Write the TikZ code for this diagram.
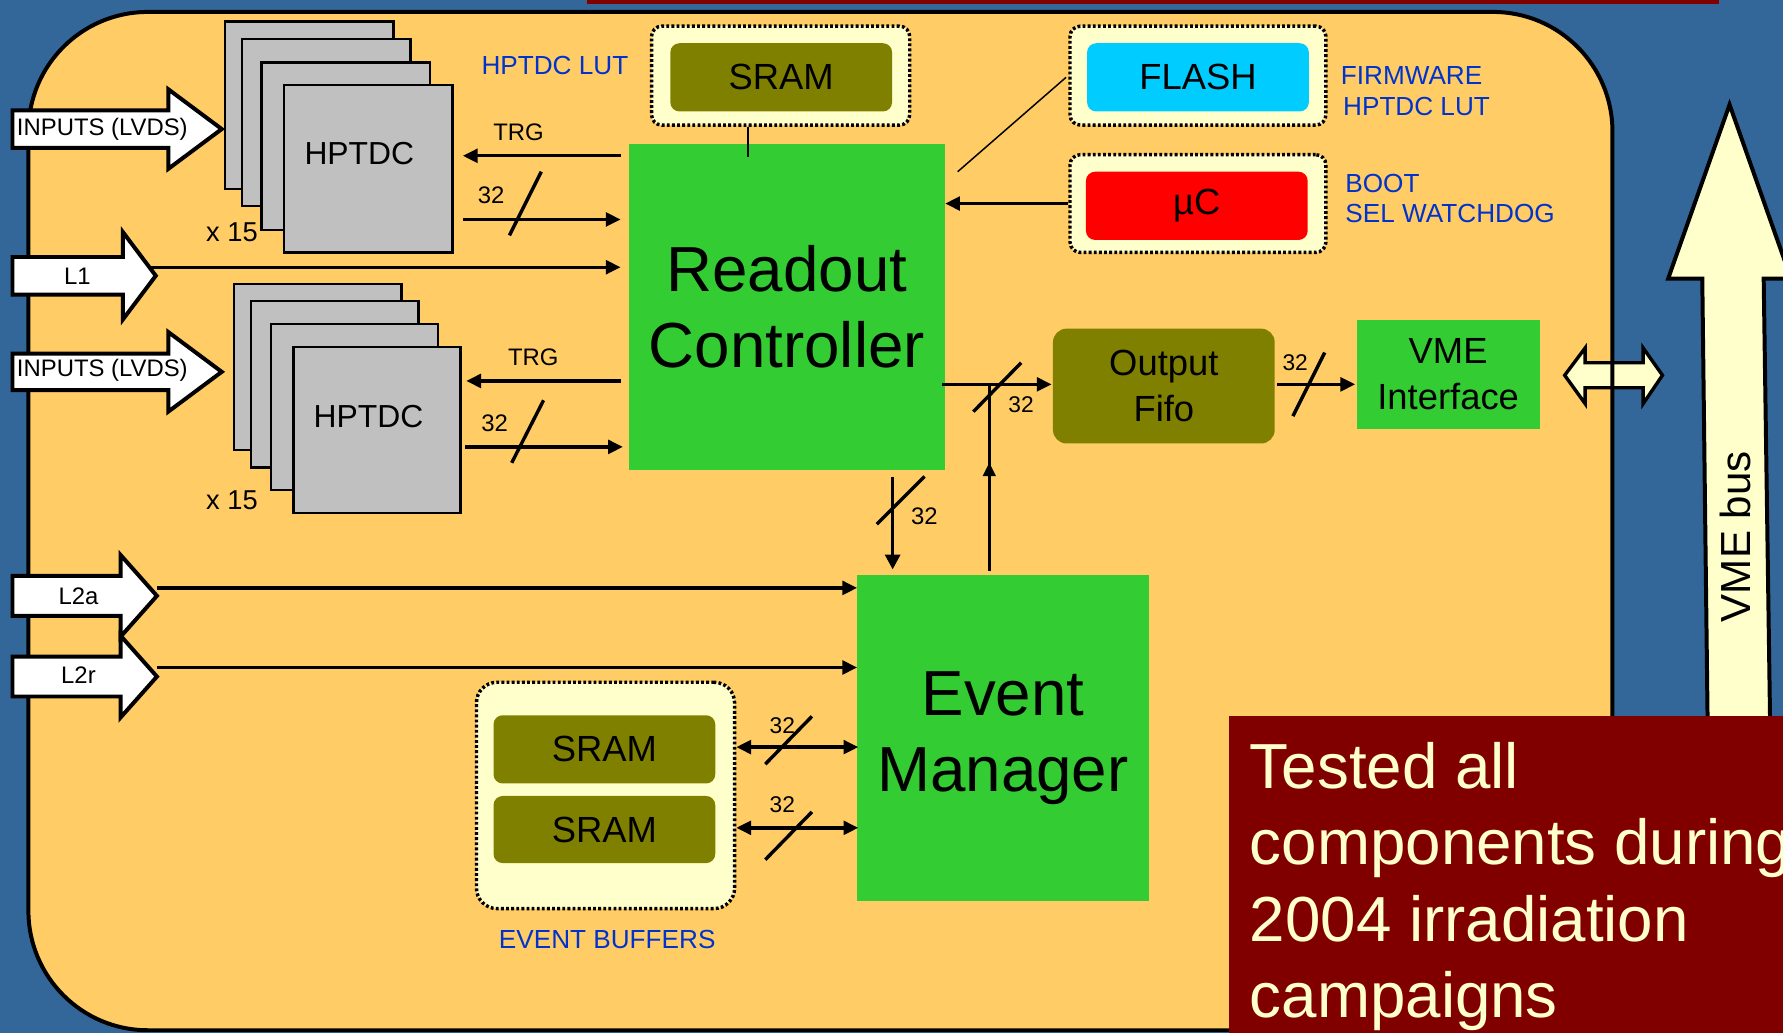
\documentclass[tikz,border=0pt]{standalone}
\usepackage{fontspec}
\setmainfont{Liberation Sans}
\usetikzlibrary{arrows.meta,
                calc, %for relative coords
                positioning}

\definecolor{bgblue}{RGB}{51,102,153}
\definecolor{boardorange}{RGB}{255,204,102}
\definecolor{chipgreen}{RGB}{51,204,51}
\definecolor{sramolive}{RGB}{128,128,0}
\definecolor{paleyellow}{RGB}{255,255,204}
\definecolor{flashcyan}{RGB}{0,204,255}
\definecolor{darkred}{RGB}{128,0,0}
\definecolor{labelblue}{RGB}{0,51,204}
\definecolor{tdcgrey}{RGB}{192,192,192}

% white block arrow: left x, head x, tip x, centre y, half shaft, half head
\newcommand{\blockarrow}[6]{%
  \draw[blk] (#1,#4-#5) -- (#2,#4-#5) -- (#2,#4-#6) -- (#3,#4)
    -- (#2,#4+#6) -- (#2,#4+#5) -- (#1,#4+#5) -- cycle;}

\begin{document}
\begin{tikzpicture}[x=1pt, y=-1pt,
    block/.style={fill=chipgreen, inner sep=0pt, align=center,
                  font=\fontsize{56}{67}\selectfont},
    mem/.style={fill=sramolive, rounded corners=8pt, inner sep=0pt,
                minimum width=195pt, minimum height=60pt,
                font=\fontsize{32}{40}\selectfont},
    holder/.style={draw, fill=paleyellow, line width=3pt,
                   dash pattern=on 2.5pt off 2pt, rounded corners=9pt, inner sep=0pt},
    tdc/.style={draw, fill=tdcgrey, line width=2pt, inner sep=0pt,
                minimum width=148pt, minimum height=147pt},
    sheet/.style={draw, fill=tdcgrey, line width=2pt},
    blk/.style={draw, fill=white, line width=3.5pt, line join=miter},
    busarrow/.style={draw, fill=paleyellow, line width=3pt, line join=miter},
    sig/.style={line width=3pt, -{Triangle[length=13pt,width=12pt]}},
    bisig/.style={line width=3pt,
                  {Triangle[length=13pt,width=12pt]}-{Triangle[length=13pt,width=12pt]}},
    wire/.style={line width=1.3pt},
    slash/.style={line width=3pt},
    lbl/.style={inner sep=0pt, font=\fontsize{21}{25}\selectfont},
    bluelbl/.style={inner sep=0pt, text=labelblue, font=\fontsize{23}{28}\selectfont},
    note/.style={inner sep=0pt, text=paleyellow, font=\fontsize{56}{67}\selectfont}
    ]

    \useasboundingbox (0,0) rectangle (1568,908);
    \clip (0,0) rectangle (1568,908);

    %background and board
    \fill[bgblue] (0,0) rectangle (1568,908);
    \fill[darkred] (516,0) rectangle (1512,3.5);
    \fill[boardorange, rounded corners=105pt] (25,10.5) rectangle (1418,906);
    \draw[busarrow] (1376,330) -- (1394,306) -- (1394,319) -- (1445,319) -- (1445,306)
        -- (1462,330) -- (1445,355) -- (1445,341) -- (1394,341) -- (1394,355) -- cycle;
    \draw[line width=3.5pt, rounded corners=105pt] (25,10.5) rectangle (1418,906);

    %VME bus
    \draw[busarrow, line width=3.5pt] (1521,92) -- (1575,245) -- (1551,245) -- (1557,660)
        -- (1502,660) -- (1497,245) -- (1467,245) -- cycle;
    \node[rotate=90, inner sep=0pt, font=\fontsize{37}{44}\selectfont] (busname) at (1526,472) {VME bus};

    %HPTDC stacks
    \foreach \dx/\dy in {-52/-56, -37/-41, -20/-20}
        \draw[sheet] (324+\dx-74,148.5+\dy-73.5) rectangle ++(148,147);
    \node[tdc] (TDCa) at (324,148.5) {};
    \foreach \dx/\dy in {-52/-55, -37/-40, -20/-20}
        \draw[sheet] (331.5+\dx-73.5,378+\dy-73) rectangle ++(147,146);
    \node[tdc, minimum width=147pt, minimum height=146pt] (TDCb) at (331.5,378) {};
    \node[inner sep=0pt, font=\fontsize{28}{34}\selectfont] (TDCatext) at ($(TDCa)+(-8,-13.5)$) {HPTDC};
    \node[inner sep=0pt, font=\fontsize{28}{34}\selectfont] (TDCbtext) at ($(TDCb)+(-7.5,-12)$) {HPTDC};
    \node[inner sep=0pt, font=\fontsize{24}{29}\selectfont] (mulA) at (204,204) {x 15};
    \node[inner sep=0pt, font=\fontsize{24}{29}\selectfont] (mulB) at (204,440) {x 15};

    %input block arrows
    \blockarrow{11}{148}{195}{113.5}{16.5}{35}
    \blockarrow{11}{148}{195}{327}{16}{35}
    \blockarrow{11}{108}{137}{242.5}{16.5}{38.5}
    \blockarrow{11}{106}{138}{524}{17.5}{36}
    \blockarrow{11}{106}{138}{595}{17.5}{36}
    \node[lbl] (inA) at (90,114) {INPUTS (LVDS)};
    \node[lbl] (inB) at (90,326) {INPUTS (LVDS)};
    \node[lbl] (lvlA) at (68,243) {L1};
    \node[lbl] (lvlB) at (69,524) {L2a};
    \node[lbl] (lvlC) at (69,594) {L2r};
    \coordinate (L1out) at (133,235);
    \coordinate (L2aout) at (138,517);
    \coordinate (L2rout) at (138,587);

    %main blocks
    \node[block, minimum width=278pt, minimum height=286pt] (RC) at (692,270) {Readout\\Controller};
    \node[block, minimum width=256pt, minimum height=286pt] (EM) at (882,649) {Event\\Manager};
    \node[block, minimum width=161pt, minimum height=96pt,
          font=\fontsize{32}{40}\selectfont] (vme) at (1273.5,329) {VME\\Interface};
    \node[mem, minimum height=101pt, rounded corners=12pt, align=center,
          font=\fontsize{32}{41}\selectfont] (fifo) at (1023.5,339.5) {Output\\Fifo};

    %memories
    \node[holder, minimum width=227pt, minimum height=87pt] (sramhold) at (686.5,66.5) {};
    \node[mem] (sram) at (687,68) {SRAM};
    \node[holder, minimum width=225pt, minimum height=87pt] (flashhold) at (1053.5,66.5) {};
    \node[mem, fill=flashcyan] (flash) at (1053.5,68) {FLASH};
    \node[holder, minimum width=225pt, minimum height=86pt] (uchold) at (1053.5,179) {};
    \node[mem, fill=red] (uc) at (1052.5,181) {µC};
    \node[holder, minimum width=227pt, minimum height=199pt, rounded corners=18pt] (bufhold) at (532.5,699.5) {};
    \node[mem] (buf1) at (531.5,659) {SRAM};
    \node[mem, minimum height=59pt] (buf2) at (531.5,729.5) {SRAM};

    %blue notes
    \node[bluelbl] (lutA) at (488,58) {HPTDC LUT};
    \node[bluelbl, anchor=west] (fwA) at (1179,66) {FIRMWARE};
    \node[bluelbl, anchor=west] (fwB) at (1181,94) {HPTDC LUT};
    \node[bluelbl, anchor=west] (ucA) at (1183,161) {BOOT};
    \node[bluelbl, anchor=west] (ucB) at (1183,188) {SEL WATCHDOG};
    \node[bluelbl] (bufname) at (534,826) {EVENT BUFFERS};

    %connections to the HPTDCs
    \draw[sig] ($(RC.west |- TDCa.east)+(-7,-11.5)$) -- ($(TDCa.east)+(8,-11.5)$);
    \draw[sig] ($(TDCa.east)+(8,44.5)$) -- ($(RC.west |- TDCa.east)+(-7,44.5)$);
    \draw[sig] ($(RC.west |- TDCb.east)+(-7,-43)$) -- ($(TDCb.east)+(4,-43)$);
    \draw[sig] ($(TDCb.east)+(3,15)$) -- ($(RC.west |- TDCb.east)+(-5,15)$);
    \draw[slash] (476,151) -- (448,207);
    \draw[slash] (478,352) -- (450,407);
    \node[lbl] (trgA) at (456,116) {TRG};
    \node[lbl] (trgB) at (469,314) {TRG};
    \node[lbl] (wA) at (432,172) {32};
    \node[lbl] (wB) at (435,372) {32};

    %trigger lines
    \draw[sig] (L1out) -- ($(L1out -| RC.west)+(-7,0)$);
    \draw[sig] (L2aout) -- (L2aout -| EM.west);
    \draw[sig] (L2rout) -- (L2rout -| EM.west);

    %readout path
    \draw[sig, -{Triangle[length=13pt,width=13pt]}] ($(RC.south)+(93,6)$) -- ($(EM.north -| RC.south)+(93,-5)$);
    \draw[slash] (813,419) -- (771,461);
    \node[lbl] (wC) at (813,454) {32};
    \draw[sig] ($(RC.east |- fifo.west)+(-3,-1.5)$) -- ($(fifo.west)+(-1,-1.5)$);
    \draw[slash] (898,319) -- (856,362);
    \node[lbl, font=\fontsize{20}{24}\selectfont] (wD) at (898,356) {32};
    \coordinate (emup) at ($(EM.north)+(-12,-4)$);
    \draw[line width=2.5pt] (emup) -- ($(emup |- fifo.west)+(0,-1.5)$);
    \draw[line width=2.5pt, -{Triangle[length=12pt,width=11pt]}] (emup) -- ++(0,-95);
    \draw[sig] ($(fifo.east)+(2,-1.5)$) -- ($(vme.west |- fifo.east)+(-1,-1.5)$);
    \draw[slash] (1165,310) -- (1137,366);
    \node[lbl, font=\fontsize{20}{24}\selectfont] (wE) at (1139,319) {32};

    %event buffers
    \draw[bisig] ($(bufhold.east |- buf1)+(0,-2)$) -- ($(EM.west |- buf1)+(1,-2)$);
    \draw[bisig] ($(bufhold.east |- buf2)+(0,-1.5)$) -- ($(EM.west |- buf2)+(1,-1.5)$);
    \draw[slash] (714,630) -- (673,672);
    \draw[slash] (714,714) -- (673,756);
    \node[lbl, font=\fontsize{20}{24}\selectfont] (wF) at (688,638) {32};
    \node[lbl, font=\fontsize{20}{24}\selectfont] (wG) at (688,708) {32};

    %memory links
    \draw[wire] ($(sramhold.south)+(-28.5,0)$) -- ($(RC.north -| sramhold.south)+(-28.5,11)$);
    \draw[wire] ($(flashhold.west)+(-2,1.5)$) -- ($(RC.east)+(11,-119)$);
    \draw[sig] (uchold.west) -- (uchold.west -| RC.east);

    %note box
    \fill[darkred] (1081,630) rectangle (1568,908);
    \foreach \t [count=\i] in {Tested all, components during, 2004 irradiation, campaigns}
        \node[note, anchor=base west] (note\i) at (1099,625.7+67.3*\i) {\t};
\end{tikzpicture}
\end{document}
